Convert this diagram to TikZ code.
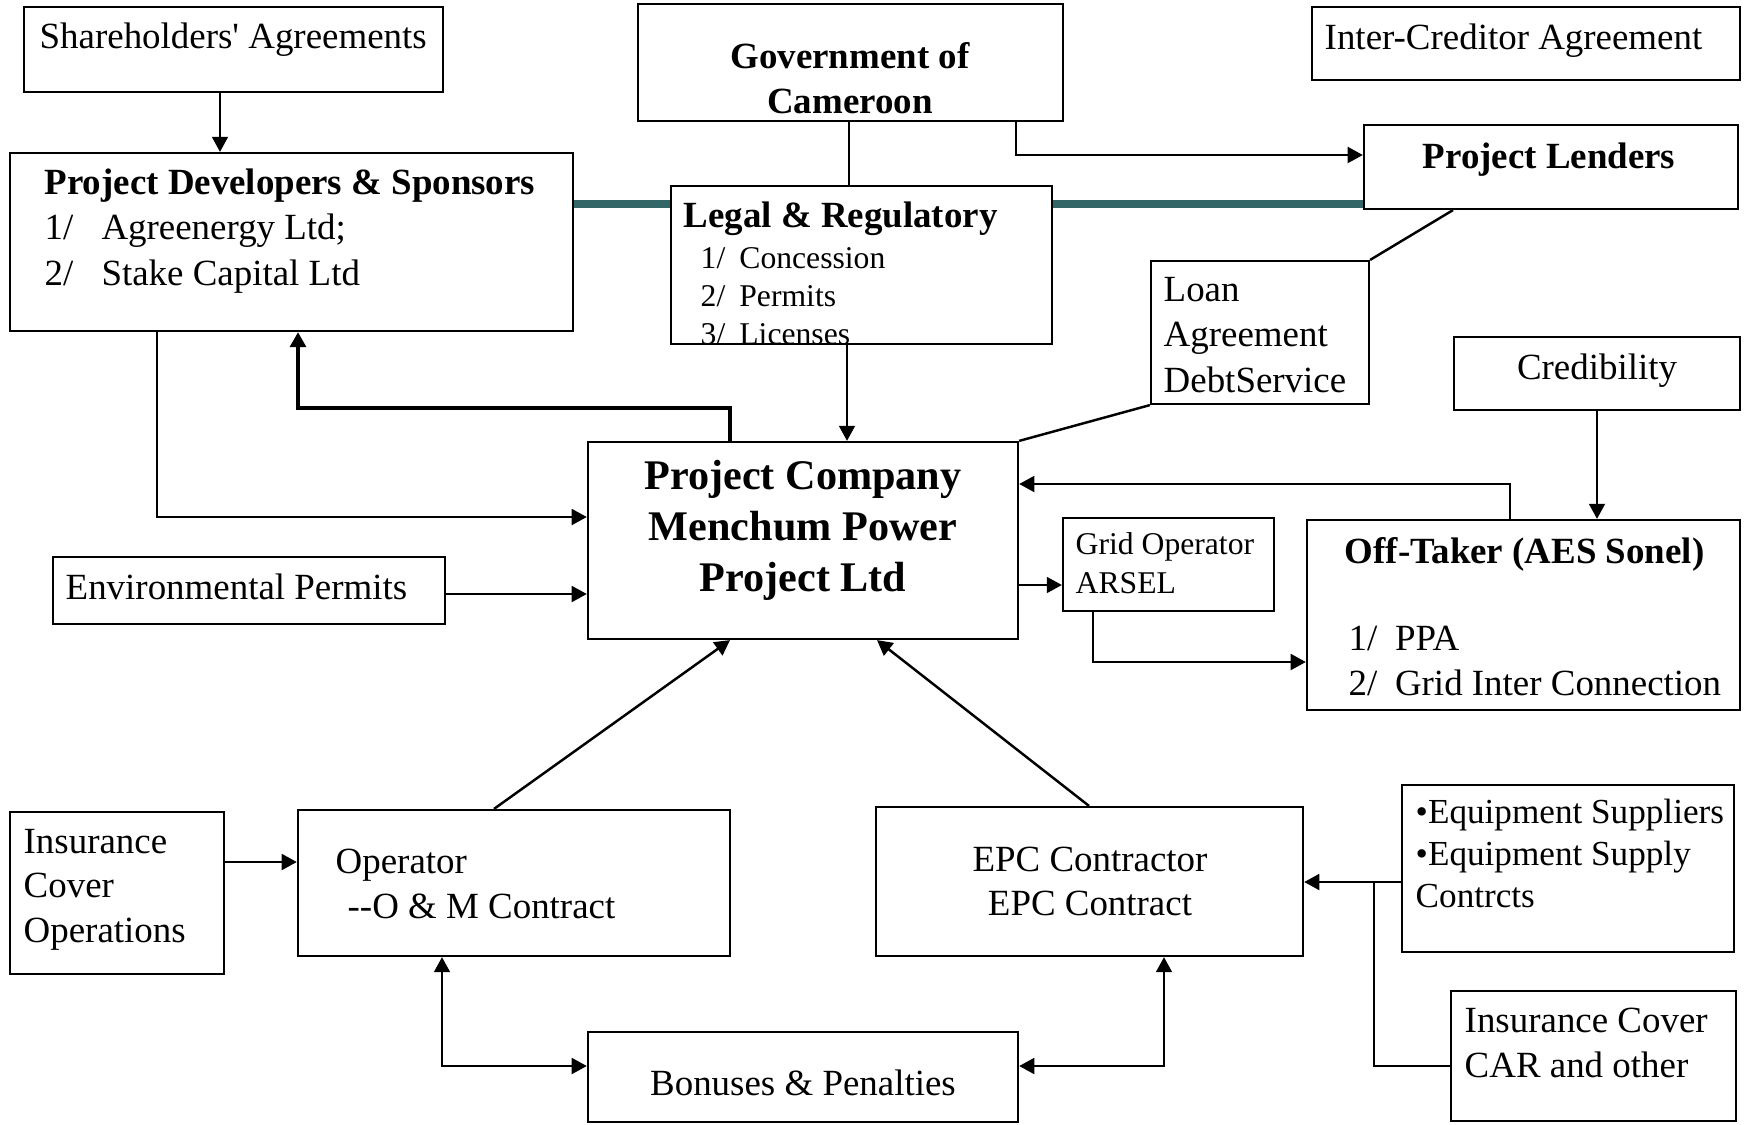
\documentclass[tikz,border=0pt]{standalone}
\usepackage{fontspec}
\setmainfont{Liberation Serif}
\usetikzlibrary{arrows.meta}

\definecolor{barteal}{RGB}{51,102,102}

\begin{document}
\begin{tikzpicture}[
    x=0.01cm, y=-0.01cm,
    >={Triangle[length=4.3pt,width=4.5pt]},
    box/.style={draw=black, line width=0.6pt, inner sep=0pt},
    txt/.style={inner sep=0pt, align=left, anchor=base west,
        font=\fontsize{10.5}{12.6}\selectfont},
    ctxt/.style={txt, align=center, anchor=base},
    head/.style={txt, font=\fontsize{10.5}{12.7}\selectfont\bfseries},
    small/.style={txt, font=\fontsize{9}{10.8}\selectfont},
    link/.style={line width=0.7pt, draw=black},
    arrow/.style={->, line width=0.7pt, draw=black},
    twoway/.style={<->, line width=0.7pt, draw=black},
    bigarrow/.style={->, line width=1.1pt, draw=black},
    tealbar/.style={line width=2pt, draw=barteal}
]
    \useasboundingbox (0,0) rectangle (1749,1124);

    % multi-line texts sit on the baseline of their last line

    %------------------------------------------------
    % top row
    %------------------------------------------------
    \node[box, minimum width=4.19cm, minimum height=0.85cm] (share) at (233.5,49.5) {};
    \node[txt] (shareT) at (39,48) {Shareholders\textquotesingle{} Agreements};

    \node[box, minimum width=4.25cm, minimum height=1.17cm] (gov) at (850.5,62.5) {};
    \node[ctxt, font=\fontsize{10.5}{12.7}\selectfont\bfseries] (govT) at (850,113.5) {Government of\\Cameroon};

    \node[box, minimum width=4.28cm, minimum height=0.73cm] (icr) at (1526,43.5) {};
    \node[txt] (icrT) at (1324,49) {Inter-Creditor Agreement};

    \node[box, minimum width=3.74cm, minimum height=0.84cm] (lend) at (1551,167) {};
    \node[ctxt, font=\fontsize{10.5}{12.7}\selectfont\bfseries] (lendT) at (1549,168) {Project Lenders};

    %------------------------------------------------
    % sponsors, regulation, loans
    %------------------------------------------------
    \node[box, minimum width=5.63cm, minimum height=1.78cm] (dev) at (291.5,242) {};
    \node[txt, font=\fontsize{10.5}{12.8}\selectfont] (devT) at (44,285)
    {\textbf{Project Developers \& Sponsors}\\1/\hspace{8pt}Agreenergy Ltd;\\2/\hspace{8pt}Stake Capital Ltd};

    \node[box, minimum width=3.81cm, minimum height=1.58cm] (legal) at (861.5,265) {};
    \node[head] (legalT) at (683,227) {Legal \& Regulatory};
    \node[small] (legalL) at (700,344) {1/\hspace{4pt}Concession\\2/\hspace{4pt}Permits\\3/\hspace{4pt}Licenses};

    \node[box, minimum width=2.18cm, minimum height=1.43cm] (loan) at (1260,332.5) {};
    \node[txt, font=\fontsize{10.5}{12.8}\selectfont] (loanT) at (1163,392) {Loan\\Agreement\\DebtService};

    \node[box, minimum width=2.86cm, minimum height=0.73cm] (cred) at (1597,373.5) {};
    \node[ctxt] (credT) at (1597,379) {Credibility};

    %------------------------------------------------
    % project company row
    %------------------------------------------------
    \node[box, minimum width=4.30cm, minimum height=1.97cm] (pc) at (803,540.5) {};
    \node[ctxt, font=\fontsize{12}{14.4}\selectfont\bfseries] (pcT) at (803,591)
    {Project Company\\Menchum Power\\Project Ltd};

    \node[box, minimum width=3.92cm, minimum height=0.67cm] (env) at (249,590.5) {};
    \node[txt] (envT) at (65,599) {Environmental Permits};

    \node[box, minimum width=2.11cm, minimum height=0.93cm] (grid) at (1168.5,564.5) {};
    \node[txt, font=\fontsize{9}{10.9}\selectfont] (gridT) at (1075,593) {Grid Operator\\ARSEL};

    \node[box, minimum width=4.33cm, minimum height=1.90cm] (off) at (1523.5,615) {};
    \node[head] (offT) at (1344,563) {Off-Taker (AES Sonel)};
    \node[txt] (offL) at (1348,695) {1/\hspace{5pt}PPA\\2/\hspace{5pt}Grid Inter Connection};

    %------------------------------------------------
    % contractors
    %------------------------------------------------
    \node[box, minimum width=2.14cm, minimum height=1.62cm] (ins) at (117,893) {};
    \node[txt] (insT) at (23,942) {Insurance\\Cover\\Operations};

    \node[box, minimum width=4.32cm, minimum height=1.46cm] (oper) at (514,883) {};
    \node[txt, font=\fontsize{10.5}{12.7}\selectfont] (operT) at (335,918.5) {Operator\\\hspace{3.4pt}-{}-O \& M Contract};

    \node[box, minimum width=4.27cm, minimum height=1.49cm] (epc) at (1089.5,881.5) {};
    \node[ctxt] (epcT) at (1090,915.5) {EPC Contractor\\EPC Contract};

    \node[box, minimum width=3.32cm, minimum height=1.67cm] (equip) at (1568,868.5) {};
    \node[txt, font=\fontsize{10}{11.9}\selectfont] (equipT) at (1415,907)
    {\textbullet Equipment Suppliers\\\textbullet Equipment Supply\\Contrcts};

    \node[box, minimum width=2.85cm, minimum height=1.30cm] (car) at (1593.5,1056) {};
    \node[txt] (carT) at (1464,1077) {Insurance Cover\\CAR and other};

    \node[box, minimum width=4.30cm, minimum height=0.90cm] (bonus) at (803,1077) {};
    \node[ctxt] (bonusT) at (803,1095) {Bonuses \& Penalties};

    %------------------------------------------------
    % connectors
    %------------------------------------------------
    \draw[tealbar] (dev.east |- 0,204) -- (legal.west |- 0,204);
    \draw[tealbar] (legal.east |- 0,204) -- (lend.west |- 0,204);

    \draw[arrow] (220,0 |- share.south) -- (220,0 |- dev.north);
    \draw[link] (849,0 |- gov.south) -- (849,0 |- legal.north);
    \draw[arrow] (1016,0 |- gov.south) |- (lend.west |- 0,155);
    \draw[link] (1453,0 |- lend.south) -- (loan.north east);
    \draw[link] (loan.south west) -- (pc.north east);
    \draw[arrow] (847,0 |- legal.south) -- (847,0 |- pc.north);

    \draw[bigarrow] (730,0 |- pc.north) -- (730,408) -| (298,0 |- dev.south);
    \draw[arrow] (157,0 |- dev.south) |- (pc.west |- 0,517);
    \draw[arrow] (env.east |- 0,594) -- (pc.west |- 0,594);

    \draw[arrow] (1510,0 |- off.north) |- (pc.east |- 0,484);
    \draw[arrow] (cred.south) -- (cred.south |- off.north);
    \draw[arrow] (pc.east |- 0,585) -- (grid.west |- 0,585);
    \draw[arrow] (1093,0 |- grid.south) |- (off.west |- 0,662);

    \draw[arrow] (494,0 |- oper.north) -- (730,0 |- pc.south);
    \draw[arrow] (1089,0 |- epc.north) -- (877,0 |- pc.south);
    \draw[arrow] (ins.east |- 0,862) -- (oper.west |- 0,862);

    \draw[twoway] (442,0 |- oper.south) |- (bonus.west |- 0,1066);
    \draw[twoway] (1164,0 |- epc.south) |- (bonus.east |- 0,1066);

    \coordinate (split) at (1374,882);
    \draw[arrow] (equip.west |- split) -- (epc.east |- split);
    \draw[link] (split) |- (car.west |- 0,1066);

\end{tikzpicture}
\end{document}
